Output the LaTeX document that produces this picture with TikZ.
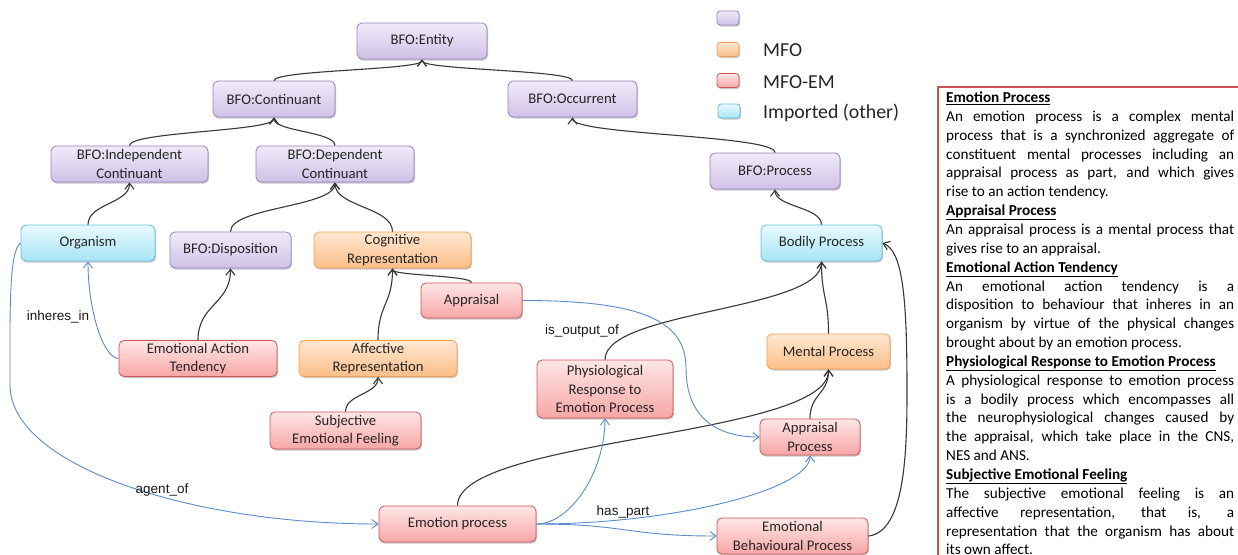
\documentclass[tikz,border=0pt]{standalone}
\usepackage{fontspec}
\setmainfont{Carlito}
\newfontfamily\arialf{Liberation Sans}
\usetikzlibrary{arrows.meta,calc,shadows}
\definecolor{pTop}{HTML}{F0EAF8}
\definecolor{pBot}{HTML}{D0C2E8}
\definecolor{pBrd}{HTML}{9A82C2}
\definecolor{oTop}{HTML}{FFE8D2}
\definecolor{oBot}{HTML}{FBBE88}
\definecolor{oBrd}{HTML}{F5A050}
\definecolor{rTop}{HTML}{FFE6E6}
\definecolor{rBot}{HTML}{F7A6A6}
\definecolor{rBrd}{HTML}{CC5757}
\definecolor{cTop}{HTML}{E8FAFE}
\definecolor{cBot}{HTML}{A8E4F5}
\definecolor{cBrd}{HTML}{66BED8}
\definecolor{blueLine}{HTML}{5B8BC9}
\definecolor{blackLine}{HTML}{383838}
\definecolor{descBrd}{HTML}{C85050}
\newcommand\vcon[3][]{\path ($(#2)!0.5!(#3)$) coordinate (mid);
  \draw[blk,#1] (#2) .. controls (#2 |- mid) and (#3 |- mid) .. (#3);}
\newcommand\hvcon[3][]{\draw[blu,#1] (#2) .. controls ($(#2)!0.5!(#2 -| #3)$) and ($(#3)!0.5!(#2 -| #3)$) .. (#3);}
\newcommand\jline[1]{\makebox[288pt][s]{#1}\\}
\newcommand\lline[1]{#1\\}
\newcommand\headline[1]{\underline{\textbf{#1}}\\}
\begin{document}
\begin{tikzpicture}[x=1pt,y=-1pt,
  box/.style={rounded corners=5pt, draw, line width=0.8pt, align=center,
    minimum height=36pt, inner sep=2pt, text=black!85,
    font=\fontsize{14.7}{18.2}\selectfont,
    drop shadow={shadow xshift=1pt, shadow yshift=-1.5pt, opacity=0.22, fill=black}},
  pbox/.style={box, draw=pBrd, top color=pTop, bottom color=pBot},
  obox/.style={box, draw=oBrd, top color=oTop, bottom color=oBot},
  rbox/.style={box, draw=rBrd, top color=rTop, bottom color=rBot},
  cbox/.style={box, draw=cBrd, top color=cTop, bottom color=cBot},
  swatch/.style={minimum width=22pt, minimum height=14pt, inner sep=0pt, rounded corners=3pt},
  tip/.style={-{Straight Barb[length=6pt,width=9pt]}},
  blk/.style={tip, draw=blackLine, line width=1.1pt},
  blu/.style={tip, draw=blueLine, line width=0.9pt},
  lbl/.style={font=\arialf\fontsize{13.5}{15}\selectfont, text=black!90, inner sep=1pt},
  lgd/.style={font=\fontsize{19.8}{22}\selectfont, text=black!85, anchor=base west, inner sep=0pt}
]
\useasboundingbox (0,0) rectangle (1238,554);
\clip (0,0) rectangle (1238,554);
\fill[white] (0,0) rectangle (1238,554);

% legend
\node[pbox, swatch] (lg1) at (728,18) {};
\node[obox, swatch] (lg2) at (728,49.5) {};
\node[rbox, swatch] (lg3) at (728,80.5) {};
\node[cbox, swatch] (lg4) at (729,111) {};
\node[lgd] (lt2) at (763,56.5) {MFO};
\node[lgd] (lt3) at (763,88) {MFO-EM};
\node[lgd] (lt4) at (763,118) {Imported (other)};

% nodes
\node[pbox, minimum width=130pt] (ent) at (422,41) {BFO:Entity};
\node[pbox, minimum width=122pt] (cont) at (274,99) {BFO:Continuant};
\node[pbox, minimum width=129pt] (occ) at (572.5,99) {BFO:Occurrent};
\node[pbox, minimum width=157pt] (ind) at (129.5,164) {BFO:Independent\\Continuant};
\node[pbox, minimum width=158pt] (dep) at (335,164) {BFO:Dependent\\Continuant};
\node[pbox, minimum width=130pt] (proc) at (775,171) {BFO:Process};
\node[cbox, minimum width=134pt] (org) at (88,243) {Organism};
\node[pbox, minimum width=121pt] (disp) at (230.5,250) {BFO:Disposition};
\node[obox, minimum width=157pt] (cog) at (392.5,250) {Cognitive\\Representation};
\node[cbox, minimum width=121pt] (bp) at (821.5,243) {Bodily Process};
\node[rbox, minimum width=101pt, minimum height=35pt] (appr) at (471.5,300.5) {Appraisal};
\node[rbox, minimum width=158pt] (eat) at (198,358.5) {Emotional Action\\Tendency};
\node[obox, minimum width=158pt] (aff) at (378,358.5) {Affective\\Representation};
\node[obox, minimum width=123pt, minimum height=35pt] (mp) at (828.5,351.5) {Mental Process};
\node[rbox, minimum width=136pt, minimum height=58pt] (phys) at (605,389) {Physiological\\Response to\\Emotion Process};
\node[rbox, minimum width=151pt, minimum height=37pt] (sef) at (345.5,430.5) {Subjective\\Emotional Feeling};
\node[rbox, minimum width=100pt] (ap) at (810,437) {Appraisal\\Process};
\node[rbox, minimum width=157pt] (ep) at (457.5,524) {Emotion process};
\node[rbox, minimum width=151pt] (ebp) at (792.5,536) {Emotional\\Behavioural Process};

% is_a connectors
\vcon{cont.north}{ent.south}
\vcon{occ.north}{ent.south}
\vcon{ind.north}{cont.south}
\vcon{dep.north}{cont.south}
\vcon{org.north}{ind.south}
\vcon{disp.north}{dep.south}
\vcon{cog.north}{dep.south}
\vcon{proc.north}{occ.south}
\vcon{bp.north}{proc.south}
\vcon{appr.north}{cog.south}
\vcon{eat.north}{disp.south}
\vcon{aff.north}{cog.south}
\vcon{sef.north}{aff.south}
\vcon{phys.north}{bp.south}
\vcon{mp.north}{bp.south}
\vcon{ep.north}{mp.south}
\vcon{ap.north}{mp.south}
\coordinate (eb1) at (907,390);
\draw[blk] (ebp.east) .. controls +(37,-4) and +(0,60) .. (eb1) .. controls +(0,-95) and +(20,8) .. (bp.east);

% relations
\hvcon{eat.west}{org.south}
\coordinate (ag1) at (10,385);
\draw[blu] (org.west) .. controls +(-12,8) and +(0,-70) .. (ag1) .. controls +(0,80) and +(-190,0) .. (ep.west);
\coordinate (io1) at (686,368);
\draw[blu] (appr.east) .. controls +(118,0) and +(0,-48) .. (io1) .. controls +(0,52) and +(-40,0) .. (ap.west);
\hvcon{ep.east}{phys.south}
\hvcon{ep.east}{ap.south}
\path ($(ep.east)!0.5!(ebp.west)$) coordinate (m2);
\draw[blu] (ep.east) .. controls (m2 |- ep.east) and (m2 |- ebp.west) .. (ebp.west);

\node[lbl] (l1) at (58,317) {inheres\_in};
\node[lbl] (l2) at (162,490) {agent\_of};
\node[lbl] (l3) at (582,331) {is\_output\_of};
\node[lbl] (l4) at (623,512) {has\_part};

% description box
\draw[descBrd, line width=1.6pt] (938,87) rectangle (1262,590);
\node[anchor=base west, inner sep=0pt] (desc) at (946,102.5) {\parbox[t]{288pt}{\fontsize{15.2}{18.85}\selectfont
\headline{Emotion Process}
\jline{An emotion process is a complex mental}
\jline{process that is a synchronized aggregate of}
\jline{constituent mental processes including an}
\jline{appraisal process as part, and which gives}
\lline{rise to an action tendency.}
\headline{Appraisal Process}
\jline{An appraisal process is a mental process that}
\lline{gives rise to an appraisal.}
\headline{Emotional Action Tendency}
\jline{An emotional action tendency is a}
\jline{disposition to behaviour that inheres in an}
\jline{organism by virtue of the physical changes}
\lline{brought about by an emotion process.}
\headline{Physiological Response to Emotion Process}
\jline{A physiological response to emotion process}
\jline{is a bodily process which encompasses all}
\jline{the neurophysiological changes caused by}
\jline{the appraisal, which take place in the CNS,}
\lline{NES and ANS.}
\headline{Subjective Emotional Feeling}
\jline{The subjective emotional feeling is an}
\jline{affective representation, that is, a}
\jline{representation that the organism has about}
its own affect.}};
\end{tikzpicture}
\end{document}
